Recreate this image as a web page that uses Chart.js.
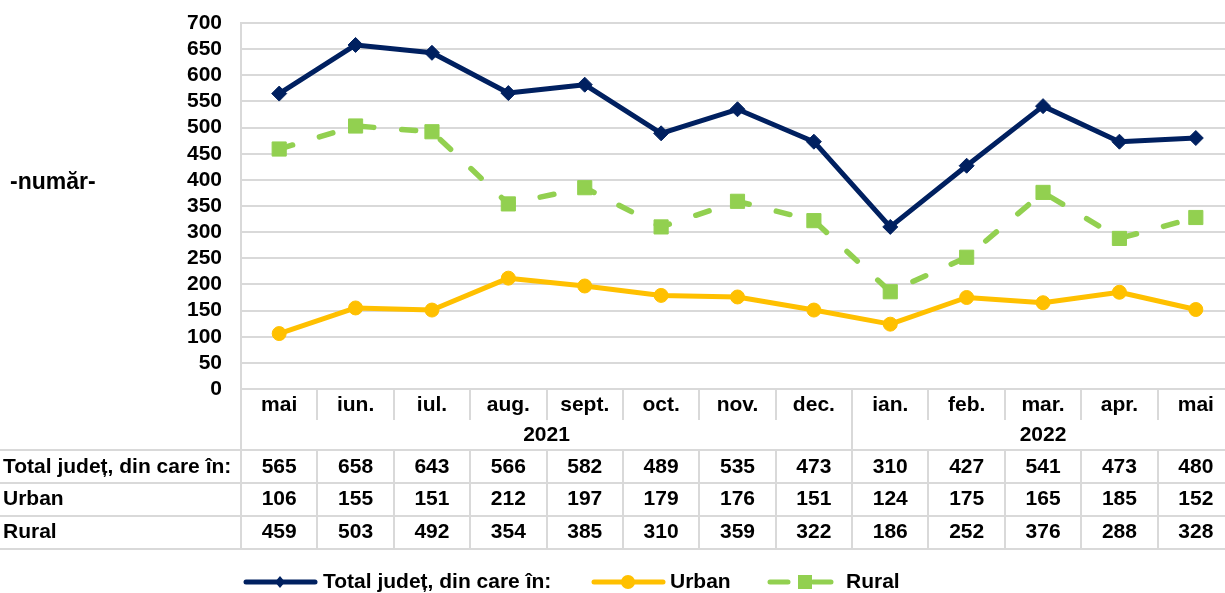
<!DOCTYPE html>
<html>
<head>
<meta charset="utf-8">
<script src="https://cdn.jsdelivr.net/npm/chart.js@4"></script>
<style>
  html, body { margin: 0; padding: 0; background: #fff; overflow: hidden; }
  #wrap { width: 1234px; height: 593px; }
</style>
</head>
<body>
<div id="wrap"><canvas id="myChart" width="1234" height="593"></canvas></div>
<script>
// luni si ani
var months = ['mai', 'iun.', 'iul.', 'aug.', 'sept.', 'oct.', 'nov.', 'dec.', 'ian.', 'feb.', 'mar.', 'apr.', 'mai'];
var years = ['2021', '2022'];
var yearStart = [0, 8];

// serii
var total = [565, 658, 643, 566, 582, 489, 535, 473, 310, 427, 541, 473, 480];
var urban = [106, 155, 151, 212, 197, 179, 176, 151, 124, 175, 165, 185, 152];
var rural = [459, 503, 492, 354, 385, 310, 359, 322, 186, 252, 376, 288, 328];

var rowLabels = ['Total județ, din care în:', 'Urban', 'Rural'];
var yTitle = '-număr-';

var navy = '#002060';
var yellow = '#FFC000';
var green = '#92D050';
var gridCol = '#d9d9d9';
var FONT = "'Liberation Sans', Arial, sans-serif";

Chart.defaults.font.family = FONT;

const ctx = document.getElementById('myChart').getContext('2d');

// tabelul de date + legenda, desenate dupa grafic
const tablePlugin = {
  id: 'dataTable',
  afterDraw(chart) {
    const c = chart.ctx;
    const xs = chart.scales.x;
    const area = chart.chartArea;
    const W = chart.width;
    const step = xs.getPixelForValue(1) - xs.getPixelForValue(0);
    const rowsY = [467, 499.5, 532];
    const series = [total, urban, rural];

    c.save();
    c.strokeStyle = gridCol;
    c.lineWidth = 2;
    // linii orizontale
    [450, 483, 516, 549].forEach(function (y) {
      c.beginPath(); c.moveTo(0, y); c.lineTo(W, y); c.stroke();
    });
    // marginea stanga prelungita
    c.beginPath(); c.moveTo(area.left, area.bottom); c.lineTo(area.left, 549); c.stroke();
    // separatoare intre coloane
    for (let i = 1; i < months.length; i++) {
      const x = Math.round(xs.getPixelForValue(i) - step / 2);
      c.beginPath();
      if (yearStart.indexOf(i) >= 0) {
        c.moveTo(x, area.bottom); c.lineTo(x, 549);
      } else {
        c.moveTo(x, area.bottom); c.lineTo(x, 420);
        c.moveTo(x, 450); c.lineTo(x, 549);
      }
      c.stroke();
    }

    c.fillStyle = '#000';
    c.font = 'bold 21px ' + FONT;
    c.textAlign = 'center';
    c.textBaseline = 'middle';
    months.forEach(function (m, i) {
      c.fillText(m, xs.getPixelForValue(i), 405);
    });
    years.forEach(function (yr, k) {
      const a = yearStart[k];
      const b = k + 1 < yearStart.length ? yearStart[k + 1] - 1 : months.length - 1;
      const x0 = xs.getPixelForValue(a) - step / 2;
      const x1 = xs.getPixelForValue(b) + step / 2;
      c.fillText(yr, (x0 + x1) / 2, 435);
    });
    series.forEach(function (s, r) {
      s.forEach(function (v, i) {
        c.fillText(String(v), xs.getPixelForValue(i), rowsY[r]);
      });
    });
    c.textAlign = 'left';
    rowLabels.forEach(function (t, r) {
      c.fillText(t, 3, rowsY[r]);
    });

    // titlul axei y
    c.font = 'bold 23px ' + FONT;
    c.fillText(yTitle, 10, 183);

    // legenda
    const ly = 582;
    c.lineCap = 'round';
    c.lineWidth = 5;
    // total
    c.strokeStyle = navy;
    c.beginPath(); c.moveTo(246, ly); c.lineTo(315, ly); c.stroke();
    c.fillStyle = navy;
    c.beginPath(); c.moveTo(280, ly - 6); c.lineTo(285, ly); c.lineTo(280, ly + 6); c.lineTo(275, ly); c.closePath(); c.fill();
    // urban
    c.strokeStyle = yellow;
    c.beginPath(); c.moveTo(594, ly); c.lineTo(663, ly); c.stroke();
    c.fillStyle = yellow;
    c.beginPath(); c.arc(628, ly, 7, 0, Math.PI * 2); c.fill();
    // rural
    c.strokeStyle = green;
    c.beginPath(); c.moveTo(770, ly); c.lineTo(788, ly); c.moveTo(813, ly); c.lineTo(831, ly); c.stroke();
    c.fillStyle = green;
    c.fillRect(798, ly - 7, 14, 14);

    c.fillStyle = '#000';
    c.font = 'bold 21px ' + FONT;
    c.fillText(rowLabels[0], 323, ly);
    c.fillText(rowLabels[1], 670, ly);
    c.fillText(rowLabels[2], 846, ly);
    c.restore();
  }
};

const myChart = new Chart(ctx, {
  type: 'line',
  data: {
    labels: months,
    datasets: [
      {
        label: rowLabels[0],
        data: total,
        borderColor: navy,
        backgroundColor: navy,
        borderWidth: 5,
        pointStyle: 'rectRot',
        pointRadius: 7.5,
        pointBorderWidth: 1,
        borderJoinStyle: 'round'
      },
      {
        label: rowLabels[1],
        data: urban,
        borderColor: yellow,
        backgroundColor: yellow,
        borderWidth: 5,
        pointStyle: 'circle',
        pointRadius: 7,
        pointBorderWidth: 1,
        borderJoinStyle: 'round'
      },
      {
        label: rowLabels[2],
        data: rural,
        borderColor: green,
        backgroundColor: green,
        borderWidth: 5.5,
        borderDash: [14, 28],
        borderCapStyle: 'round',
        pointStyle: 'rect',
        pointRadius: 10,
        pointBorderWidth: 1,
        borderJoinStyle: 'round'
      }
    ]
  },
  options: {
    responsive: false,
    animation: false,
    layout: { autoPadding: false, padding: { top: 23, right: 0, bottom: 204, left: 0 } },
    plugins: {
      legend: { display: false },
      tooltip: { enabled: false }
    },
    scales: {
      x: {
        display: false,
        offset: true
      },
      y: {
        min: 0,
        max: 700,
        afterFit: function (s) {
          s.width = 241;
          s.paddingTop = 0;
          s.paddingBottom = 0;
        },
        ticks: {
          stepSize: 50,
          autoSkip: false,
          color: '#000',
          padding: 19,
          font: { size: 21, weight: 'bold' }
        },
        grid: { color: gridCol, lineWidth: 2, drawTicks: false },
        border: { color: gridCol, width: 2 }
      }
    }
  },
  plugins: [tablePlugin]
});
</script>
</body>
</html>
